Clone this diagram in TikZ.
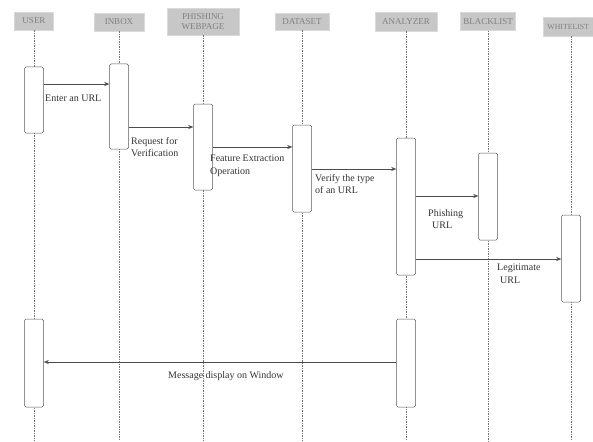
\documentclass[tikz,border=0pt]{standalone}
\usepackage{fontspec}
\setmainfont{Liberation Serif}
\usetikzlibrary{arrows.meta}
\begin{document}
\begin{tikzpicture}[x=1pt,y=-1pt,
  head/.style={fill=black!22, draw=black!15, text=black!50, font=\fontsize{9}{9.5}\selectfont, inner sep=1pt, align=center},
  act/.style={draw=black!65, fill=white, rounded corners=1.5pt, minimum width=19pt, inner sep=0pt, line width=0.5pt},
  life/.style={draw=black!55, dash pattern=on 1.5pt off 1pt, line width=0.5pt},
  msg/.style={draw=black!70, line width=0.5pt, -{Stealth[length=5pt,width=4pt]}},
  lbl/.style={font=\fontsize{10}{12.5}\selectfont, text=black!80, align=left, anchor=north west, inner sep=0pt}]
\useasboundingbox (0,0) rectangle (593,441);
\clip (0,0) rectangle (593,441);
% headers
\node[head, minimum width=39pt, minimum height=18pt] (hu) at (34,21) {USER};
\node[head, minimum width=50pt, minimum height=18pt] (hi) at (119,22) {INBOX};
\node[head, minimum width=72pt, minimum height=27pt] (hp) at (203,21.5) {PHISHING\\WEBPAGE};
\node[head, minimum width=54pt, minimum height=17pt] (hd) at (302,21.5) {DATASET};
\node[head, minimum width=62pt, minimum height=19pt] (ha) at (406,21.5) {ANALYZER};
\node[head, minimum width=55pt, minimum height=18pt] (hb) at (488,21.5) {BLACKLIST};
\node[head, font=\fontsize{7.8}{8}\selectfont, minimum width=50pt, minimum height=19pt, anchor=west] (hw) at (543,26.5) {WHITELIST};
\coordinate (bot) at (0,441);
% lifelines
\foreach \h in {hu,hi,hp,hd,ha,hb} \draw[life] (\h.south) -- (\h.south |- bot);
\coordinate (wx) at (571,0);
\draw[life] (wx |- hw.south) -- (wx |- bot);
% activations
\node[act, minimum height=66pt] (u1) at (34,100) {};
\node[act, minimum height=85pt] (ib) at (119,106.5) {};
\node[act, minimum height=86pt] (ph) at (203,147) {};
\node[act, minimum height=87pt] (ds) at (302,168.5) {};
\node[act, minimum height=137pt] (an1) at (406,206.5) {};
\node[act, minimum height=87pt] (bl) at (488,196.5) {};
\node[act, minimum height=87pt] (wl) at (571,258.5) {};
\node[act, minimum height=88pt] (u2) at (34,363) {};
\node[act, minimum height=88pt] (an2) at (406,363) {};
% message heights
\coordinate (m1) at (0,84);
\coordinate (m2) at (0,127);
\coordinate (m3) at (0,147);
\coordinate (m4) at (0,169);
\coordinate (m5) at (0,196);
\coordinate (m6) at (0,259);
\coordinate (m7) at (0,362);
\draw[msg] (u1.east |- m1) -- (ib.west |- m1);
\draw[msg] (ib.east |- m2) -- (ph.west |- m2);
\draw[msg] (ph.east |- m3) -- (ds.west |- m3);
\draw[msg] (ds.east |- m4) -- (an1.west |- m4);
\draw[msg] (an1.east |- m5) -- (bl.west |- m5);
\draw[msg] (an1.east |- m6) -- (wl.west |- m6);
\draw[msg] (an2.west |- m7) -- (u2.east |- m7);
% labels
\node[lbl] (l1) at (45,95) {Enter an URL};
\node[lbl] (l2) at (131,137) {Request for\\Verification};
\node[lbl] (l3) at (210,155) {Feature Extraction\\Operation};
\node[lbl] (l4) at (315,174) {Verify the type\\of an URL};
\node[lbl] (l5) at (428,209) {Phishing\\\hspace*{4pt}URL};
\node[lbl] (l6) at (497,264) {Legitimate\\\hspace*{3pt}URL};
\node[lbl] (l7) at (168,371) {Message display on Window};
\end{tikzpicture}
\end{document}
